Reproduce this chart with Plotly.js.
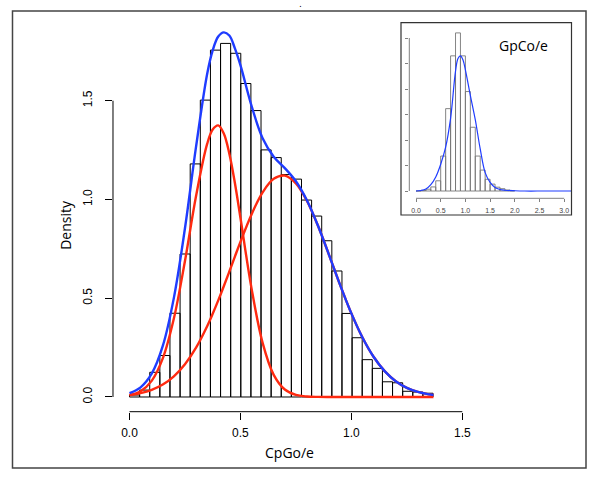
<!DOCTYPE html>
<html>
<head>
<meta charset="utf-8">
<script src="https://cdn.plot.ly/plotly-3.0.1.min.js"></script>
<style>html,body{margin:0;padding:0;background:#fff;}#chart{width:600px;height:481px;}</style>
</head>
<body>
<div id="chart"></div>
<script>
// ---------- main histogram (CpG o/e) ----------
const mainBinStart = 0;
const mainBinWidth = 0.0456;
const mainDensity = [0.010, 0.035, 0.125, 0.21, 0.424, 0.724, 1.18, 1.503, 1.756, 1.79,
                     1.74, 1.587, 1.45, 1.251, 1.212, 1.126, 1.103, 0.997, 0.916, 0.791,
                     0.638, 0.423, 0.30, 0.189, 0.145, 0.077, 0.072, 0.029, 0.025, 0.019];

// fitted curves
const curveX = [0, 0.05, 0.1, 0.15, 0.2, 0.25, 0.3, 0.35, 0.375, 0.4, 0.425, 0.45, 0.475, 0.5,
                0.55, 0.6, 0.65, 0.7, 0.75, 0.8, 0.85, 0.9, 0.95, 1.0, 1.05, 1.1, 1.15, 1.2,
                1.25, 1.3, 1.35, 1.37];
const mixtureDensity = [0.0191, 0.0488, 0.1178, 0.2583, 0.5018, 0.8544, 1.2672, 1.635, 1.755, 1.825,
                        1.846, 1.83, 1.765, 1.68, 1.474, 1.310, 1.2165, 1.1587, 1.0922, 0.9948,
                        0.8658, 0.7173, 0.5652, 0.4232, 0.3013, 0.2039, 0.1312, 0.0801, 0.0466, 0.0257,
                        0.0135, 0.0103];
const comp1Density = [0.0089, 0.0292, 0.0817, 0.1953, 0.397, 0.6886, 1.0175, 1.281, 1.354, 1.375,
                      1.3335, 1.2317, 1.0835, 0.9077, 0.5499, 0.2739, 0.1121, 0.0378, 0.0105, 0.0024,
                      0.0004, 0, 0, 0, 0, 0, 0, 0, 0, 0, 0, 0];
const comp2Density = [0.0102, 0.0196, 0.0361, 0.0630, 0.1048, 0.1658, 0.2497, 0.3582, 0.4211, 0.4890,
                      0.5608, 0.6352, 0.7108, 0.7855, 0.9245, 1.0357, 1.1044, 1.1209, 1.0817, 0.9924,
                      0.8654, 0.7173, 0.5652, 0.4232, 0.3013, 0.2039, 0.1312, 0.0801, 0.0466, 0.0257,
                      0.0135, 0.0103];
const mainTickVals = [0, 0.5, 1.0, 1.5];
const mainTickText = ['0.0', '0.5', '1.0', '1.5'];

// ---------- inset histogram (GpC o/e) ----------
const insetBinStart = 0;
const insetBinWidth = 0.1;
const insetDensity = [0, 0.02, 0.07, 0.16, 0.40, 1.37, 3.23, 5.3, 6.2, 5.3,
                      3.9, 2.5, 1.37, 0.82, 0.46, 0.27, 0.15, 0.09, 0.04, 0.01];
const insetCurveX = [0, 0.1, 0.2, 0.3, 0.4, 0.5, 0.6, 0.7, 0.8, 0.85, 0.9, 0.95, 1.0, 1.1,
                     1.2, 1.3, 1.4, 1.5, 1.6, 1.7, 1.8, 2.0, 2.2, 2.6, 3.2];
const insetCurve = [0, 0.02, 0.08, 0.25, 0.55, 1.05, 1.72, 2.85, 4.7, 5.2, 5.3, 5.15, 4.75, 3.75,
                    2.8, 1.65, 0.72, 0.34, 0.14, 0.06, 0.03, 0.01, 0, 0, 0];
const insetTickVals = [0, 0.5, 1.0, 1.5, 2.0, 2.5, 3.0];
const insetTickText = ['0.0', '0.5', '1.0', '1.5', '2.0', '2.5', '3.0'];
const insetYTicks = [0, 1, 2, 3, 4, 5, 6];

const BLUE = '#1f3cff';
const RED = '#ff2a10';

const mainCenters = mainDensity.map((_, i) => mainBinStart + (i + 0.5) * mainBinWidth);
const insetCenters = insetDensity.map((_, i) => insetBinStart + (i + 0.5) * insetBinWidth);

const traces = [
  {type: 'bar', x: mainCenters, y: mainDensity, width: mainDensity.map(() => mainBinWidth),
   marker: {color: 'rgba(255,255,255,0)', line: {color: '#000', width: 1}},
   xaxis: 'x', yaxis: 'y', hoverinfo: 'skip'},
  {type: 'scatter', mode: 'lines', x: curveX, y: comp1Density,
   line: {color: RED, width: 2.4, shape: 'spline', smoothing: 1}, xaxis: 'x', yaxis: 'y'},
  {type: 'scatter', mode: 'lines', x: curveX, y: comp2Density,
   line: {color: RED, width: 2.4, shape: 'spline', smoothing: 1}, xaxis: 'x', yaxis: 'y'},
  {type: 'scatter', mode: 'lines', x: curveX, y: mixtureDensity,
   line: {color: BLUE, width: 2.4, shape: 'spline', smoothing: 1}, xaxis: 'x', yaxis: 'y'},
  {type: 'bar', x: insetCenters, y: insetDensity, width: insetDensity.map(() => insetBinWidth),
   marker: {color: 'rgba(255,255,255,0)', line: {color: '#777', width: 0.9}},
   xaxis: 'x2', yaxis: 'y2', hoverinfo: 'skip'},
  {type: 'scatter', mode: 'lines', x: insetCurveX, y: insetCurve,
   line: {color: BLUE, width: 1.2, shape: 'spline', smoothing: 1}, xaxis: 'x2', yaxis: 'y2'}
];

const layout = {
  width: 600, height: 481,
  margin: {l: 0, r: 0, t: 0, b: 0},
  paper_bgcolor: '#fff', plot_bgcolor: 'rgba(0,0,0,0)',
  showlegend: false, barmode: 'overlay',
  xaxis: {domain: [0.18833, 0.8], range: [-0.07437, 1.5798], showgrid: false, zeroline: false,
          showline: false, tickvals: mainTickVals, ticktext: mainTickText, ticks: 'outside',
          ticklen: 7, tickwidth: 1, tickcolor: '#000', ticklabelstandoff: 3,
          tickfont: {family: 'Liberation Sans, Arial, sans-serif', size: 12, color: '#000'}},
  yaxis: {domain: [0.14407, 0.93763], range: [-0.07442, 1.8579], showgrid: false, zeroline: false,
          showline: false, tickvals: mainTickVals, ticktext: mainTickText, ticks: 'outside',
          ticklen: 7, tickwidth: 1, tickcolor: '#000', tickangle: -90, ticklabelstandoff: 8,
          tickfont: {family: 'Liberation Sans, Arial, sans-serif', size: 12, color: '#000'}},
  xaxis2: {domain: [0.68217, 0.9525], range: [-0.1356, 3.148], anchor: 'y2', showgrid: false,
           zeroline: false, showline: false, tickvals: insetTickVals, ticktext: insetTickText,
           ticks: 'outside', ticklen: 3, tickwidth: 1, tickcolor: '#808080', ticklabelstandoff: 2,
           tickfont: {family: 'Liberation Sans, Arial, sans-serif', size: 7, color: '#444'}},
  yaxis2: {domain: [0.58773, 0.94802], range: [-0.2863, 6.5098], anchor: 'x2', showgrid: false,
           zeroline: false, showline: false, tickvals: insetYTicks, showticklabels: false,
           ticks: 'outside', ticklen: 3, tickwidth: 1, tickcolor: '#808080'},
  shapes: [
    // outer frame
    {type: 'rect', xref: 'paper', yref: 'paper', x0: 0.02083, x1: 0.97667, y0: 0.02703, y1: 0.97713,
     line: {color: '#444', width: 1.5}},
    // main axis lines (R style: only between outer ticks)
    {type: 'line', xref: 'x', yref: 'paper', x0: 0, x1: 1.5, y0: 0.14407, y1: 0.14407,
     line: {color: '#000', width: 1}},
    {type: 'line', xref: 'paper', yref: 'y', x0: 0.18833, x1: 0.18833, y0: 0, y1: 1.5,
     line: {color: '#000', width: 1}},
    // inset frame
    {type: 'rect', xref: 'paper', yref: 'paper', x0: 0.66833, x1: 0.9525, y0: 0.55301, y1: 0.95281,
     line: {color: '#333', width: 1.2}},
    // inset axis lines
    {type: 'line', xref: 'x2', yref: 'paper', x0: 0, x1: 3, y0: 0.58773, y1: 0.58773,
     line: {color: '#808080', width: 1}},
    {type: 'line', xref: 'paper', yref: 'y2', x0: 0.68217, x1: 0.68217, y0: 0, y1: 6,
     line: {color: '#808080', width: 1}}
  ],
  annotations: [
    {text: 'CpGo/e', xref: 'paper', yref: 'paper', x: 0.4825, y: 0.0600, xanchor: 'center', yanchor: 'middle',
     showarrow: false, font: {family: 'Open Sans, sans-serif', size: 14, color: '#000'}},
    {text: 'Density', xref: 'paper', yref: 'paper', x: 0.108, y: 1 - 225 / 481, xanchor: 'center', yanchor: 'middle',
     textangle: -90, showarrow: false, font: {family: 'Open Sans, sans-serif', size: 14, color: '#000'}},
    {text: 'GpCo/e', xref: 'paper', yref: 'paper', x: 0.87167, y: 0.90437, xanchor: 'center', yanchor: 'middle',
     showarrow: false, font: {family: 'Open Sans, sans-serif', size: 14, color: '#000'}},
    {text: '.', xref: 'paper', yref: 'paper', x: 0.5, y: 1, xanchor: 'center', yanchor: 'top', yshift: 3,
     showarrow: false, font: {family: 'DejaVu Sans, sans-serif', size: 9, color: '#000'}}
  ]
};

Plotly.newPlot('chart', traces, layout, {displayModeBar: false, staticPlot: true});
</script>
</body>
</html>
